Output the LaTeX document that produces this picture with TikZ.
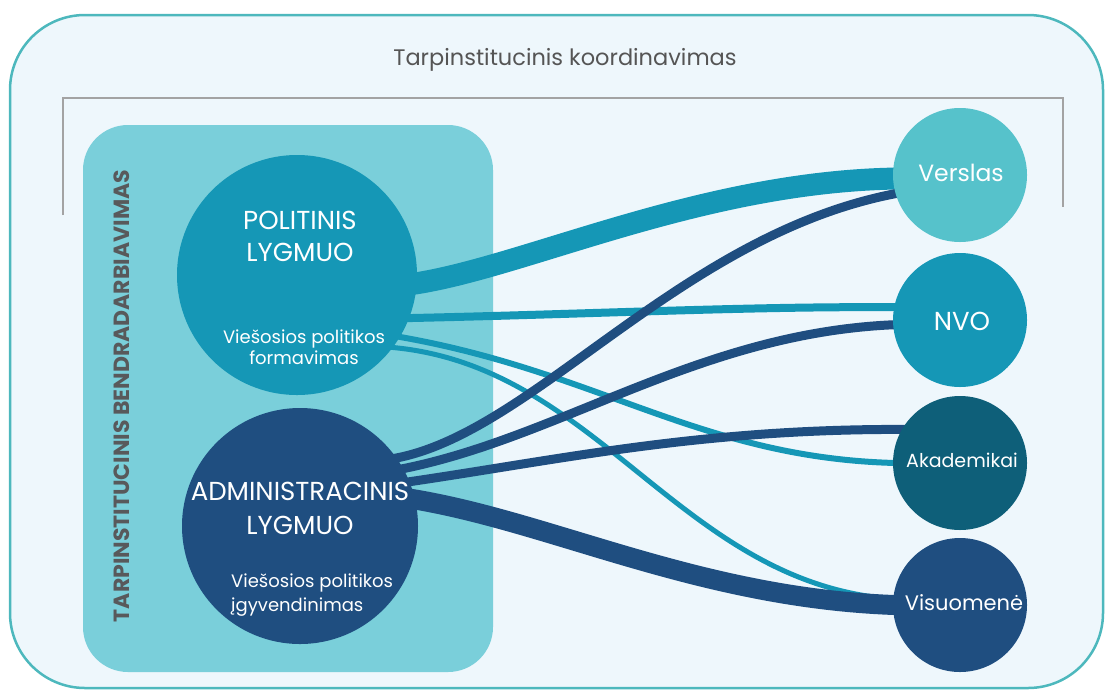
\documentclass[tikz,border=0pt]{standalone}
\usepackage{fontspec}
\setmainfont{Poppins}
\definecolor{bgpale}{HTML}{EEF7FC}
\definecolor{frameteal}{HTML}{4DB8BD}
\definecolor{innerteal}{HTML}{7ACFDA}
\definecolor{polblue}{HTML}{1597B6}
\definecolor{admblue}{HTML}{1F4E80}
\definecolor{verteal}{HTML}{56C2CB}
\definecolor{akateal}{HTML}{0E5F79}
\definecolor{bracketgrey}{HTML}{A3A3A3}
\definecolor{titlegrey}{HTML}{555555}
\definecolor{sidegrey}{HTML}{58595B}
\pgfdeclarelayer{framelayer}
\pgfdeclarelayer{linklayer}
\pgfsetlayers{framelayer,linklayer,main}
\begin{document}
\begin{tikzpicture}[x=1pt,y=-1pt,
  disc/.style={circle, inner sep=0pt, minimum size=#1, draw=none},
  tlink/.style={draw=polblue, line width=#1, shorten <=-10pt, shorten >=-10pt},
  dlink/.style={draw=admblue, line width=#1, shorten <=-10pt, shorten >=-10pt},
  wtext/.style={text=white, align=center, inner sep=0pt},
]
\useasboundingbox (0,0) rectangle (1105,689);
\begin{pgfonlayer}{framelayer}
  \draw[frameteal, line width=2.5pt, fill=bgpale, rounded corners=75pt] (10,15) rectangle (1103,688);
  \draw[bracketgrey, line width=1.5pt] (63,215) -- (63,98) -- (1063,98) -- (1063,207);
  \fill[innerteal, rounded corners=45pt] (83,125) rectangle (493,672);
\end{pgfonlayer}

\node[text=titlegrey, font=\fontsize{22.5}{22.5}\selectfont] (ttl) at (565,60) {Tarpinstitucinis koordinavimas};
\node[rotate=90, text=sidegrey, font=\bfseries\fontsize{22}{22}\selectfont] (side) at (122,396) {TARPINSTITUCINIS BENDRADARBIAVIMAS};

\node[disc=240pt, fill=polblue] (pol) at (297,275) {};
\node[disc=236pt, fill=admblue] (adm) at (300,526) {};
\node[disc=134pt, fill=verteal] (vers) at (960,175) {};
\node[disc=134pt, fill=polblue] (nvo) at (960,320) {};
\node[disc=134pt, fill=akateal] (aka) at (960,463) {};
\node[disc=134pt, fill=admblue] (vis) at (960,605) {};

\node[wtext, font=\fontsize{26}{32}\selectfont] (poltxt) at (300,236) {POLITINIS\\LYGMUO};
\node[wtext, font=\fontsize{18}{21}\selectfont] (polsub) at (304,347) {Viešosios politikos\\formavimas};
\node[wtext, font=\fontsize{26}{34}\selectfont] (admtxt) at (300,508) {ADMINISTRACINIS\\LYGMUO};
\node[wtext, align=left, anchor=west, font=\fontsize{18}{24}\selectfont] (admsub) at (231,595) {Viešosios politikos\\įgyvendinimas};
\node[wtext, font=\fontsize{23.5}{23.5}\selectfont] (verstxt) at (961,173) {Verslas};
\node[wtext, font=\fontsize{26}{26}\selectfont] (nvotxt) at (962,321) {NVO};
\node[wtext, font=\fontsize{19}{19}\selectfont] (akatxt) at (962,460) {Akademikai};
\node[wtext, font=\fontsize{21}{21}\selectfont] (vistxt) at (964,603) {Visuomenė};

\begin{pgfonlayer}{linklayer}
  \draw[tlink=22pt] (pol.-4) .. controls (520,270) and (700,180) .. (vers.183);
  \draw[tlink=8pt] (pol.-21) .. controls (600,314) and (750,306) .. (nvo.169);
  \draw[tlink=6pt] (pol.-31) .. controls (600,370) and (700,460) .. (aka.180);
  \draw[tlink=5pt] (pol.-37) .. controls (600,360) and (680,590) .. (vis.175);
  \draw[dlink=9pt] (adm.35) .. controls (530,440) and (680,230) .. (vers.196);
  \draw[dlink=9pt] (adm.29) .. controls (560,440) and (700,330) .. (nvo.184);
  \draw[dlink=9pt] (adm.22) .. controls (560,460) and (700,428) .. (aka.150);
  \draw[dlink=20pt] (adm.13) .. controls (550,520) and (700,600) .. (vis.180);
\end{pgfonlayer}
\end{tikzpicture}
\end{document}
